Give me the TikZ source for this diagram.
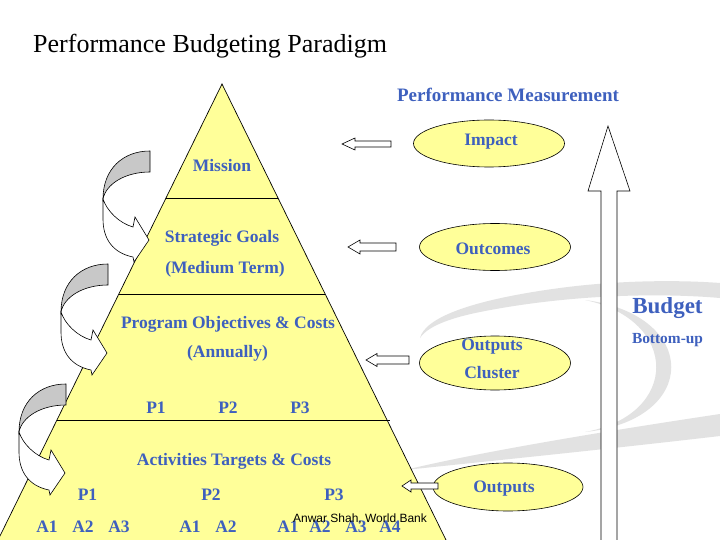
\documentclass[tikz,border=0pt]{standalone}
\usepackage{fontspec}
\setmainfont{Liberation Serif}
\newfontfamily\arialfont{Liberation Sans}
\usetikzlibrary{shapes.geometric}
\definecolor{pblue}{RGB}{62,96,190}
\definecolor{pyel}{RGB}{255,255,153}
\definecolor{cgray}{RGB}{200,200,200}
\definecolor{swoosh}{RGB}{226,226,226}
\newcommand\curvedarrowat[1]{%
  \begin{scope}[shift={#1}]
    \draw[cgray arrow] (47,-48) .. controls (20,-48) and (0,-30) .. (0,0)
       .. controls (3,-15) and (22,-27) .. (47,-27) -- cycle;
    \draw[white arrow] (0,0) .. controls (4,12) and (16,24) .. (30,28)
       -- (32,18) -- (46,41) -- (31,63) -- (30,58)
       .. controls (10,54) and (0,40) .. (0,20) -- cycle;
  \end{scope}}
\newcommand\leftblock[7]{% name, tip x, y, head base x, tail x, shaft half, head half
  \coordinate (#1) at (#2,#3);
  \draw[barrow] (#1) -- (#4,#3-#7) -- (#4,#3-#6) -- (#5,#3-#6) -- (#5,#3+#6)
     -- (#4,#3+#6) -- (#4,#3+#7) -- cycle;}
\begin{document}
\begin{tikzpicture}[x=1pt,y=-1pt,
  lbl/.style={text=pblue,font=\fontsize{17.5}{20}\selectfont\bfseries,inner sep=0pt},
  oval/.style={ellipse,draw=black,line width=0.6pt,fill=pyel,inner sep=0pt},
  barrow/.style={draw=black,fill=white,line width=0.6pt,line join=miter},
  cgray arrow/.style={draw=black,fill=cgray,line width=0.6pt},
  white arrow/.style={draw=black,fill=white,line width=0.6pt},
  edge/.style={draw=black,line width=0.7pt},
  ]
\useasboundingbox[fill=white] (0,0) rectangle (720,540);

% faint background swooshes
\fill[swoosh] (405,470) .. controls (480,452) and (600,432) .. (720,414)
   -- (720,436) .. controls (600,450) and (480,462) .. (405,470) -- cycle;
\fill[swoosh] (420,338) .. controls (425,318) and (470,300) .. (560,288)
   .. controls (620,280) and (680,280) .. (720,283)
   -- (720,298) .. controls (650,292) and (560,296) .. (480,312)
   .. controls (440,320) and (425,330) .. (420,338) -- cycle;
\fill[swoosh] (585,300) .. controls (700,315) and (700,420) .. (585,432)
   .. controls (680,415) and (680,320) .. (585,300) -- cycle;

% title
\node[anchor=west,inner sep=0pt,font=\fontsize{26}{30}\selectfont] (title) at (33,46) {Performance Budgeting Paradigm};

% pyramid
\coordinate (apex) at (222,84);
\coordinate (bl) at (-2,540);
\coordinate (br) at (446,540);
\fill[pyel] (apex) -- (br) -- (bl) -- cycle;
\draw[edge] (bl) -- (apex) -- (br);
\draw[edge] (166,198) -- (278,198);
\draw[edge] (119,294) -- (325,294);
\draw[edge] (57,420) -- (390,420);

% pyramid texts
\node[lbl] (mission) at (222,166) {Mission};
\node[lbl] (goals) at (222,238) {Strategic Goals};
\node[lbl] (medium) at (225,269) {(Medium Term)};
\node[lbl] (progobj) at (228,324) {Program Objectives \& Costs};
\node[lbl] (annually) at (227.5,353) {(Annually)};
\node[lbl] (p1a) at (156,408) {P1};
\node[lbl] (p2a) at (228,408) {P2};
\node[lbl] (p3a) at (300,408) {P3};
\node[lbl] (activ) at (234,461) {Activities Targets \& Costs};
\node[lbl] (p1b) at (87.5,495) {P1};
\node[lbl] (p2b) at (211,495) {P2};
\node[lbl] (p3b) at (334,495) {P3};
\node[lbl] (a11) at (47,527) {A1};
\node[lbl] (a12) at (83,527) {A2};
\node[lbl] (a13) at (119,527) {A3};
\node[lbl] (a21) at (190,527) {A1};
\node[lbl] (a22) at (226,527) {A2};
\node[lbl] (a31) at (288,527) {A1};
\node[lbl] (a32) at (320,527) {A2};
\node[lbl] (a33) at (356,527) {A3};
\node[lbl] (a34) at (390,527) {A4};
\node[inner sep=0pt,font=\arialfont\fontsize{12}{14}\selectfont] (author) at (360,519) {Anwar Shah, World Bank};

% curved arrows on the left
\curvedarrowat{(103,199)}
\curvedarrowat{(61,312)}
\curvedarrowat{(19,432)}

% right side
\node[lbl,font=\fontsize{19}{22}\selectfont\bfseries] (pm) at (508,95) {Performance Measurement};
\node[oval,minimum width=151pt,minimum height=47pt] (impact) at (489,143.5) {};
\node[lbl] (impactt) at (491,142) {Impact};
\node[oval,minimum width=151pt,minimum height=47pt] (outcomes) at (495,247) {};
\node[lbl] (outcomest) at (493,249) {Outcomes};
\node[oval,minimum width=151pt,minimum height=54pt] (cluster) at (495,363) {};
\node[lbl] (clustert1) at (492,347) {Outputs};
\node[lbl] (clustert2) at (492,373) {Cluster};
\node[oval,minimum width=150pt,minimum height=48pt] (outputs) at (508,487) {};
\node[lbl] (outputst) at (504,489) {Outputs};

% block arrows pointing to the pyramid
\leftblock{ia}{342}{144}{355}{391}{3}{6}
\leftblock{oa}{348}{247}{360}{396}{4}{7}
\leftblock{ca}{366}{360}{377}{409}{4}{6.5}
\leftblock{ua}{402}{486}{411}{438}{3}{6}

% big upward arrow
\coordinate (uptip) at (608,126);
\draw[barrow] (uptip) -- (630,191) -- (617,191) -- (617,545) -- (601,545)
   -- (601,191) -- (588,191) -- cycle;
\node[lbl,font=\fontsize{23}{26}\selectfont\bfseries] (budget) at (667.5,308) {Budget};
\node[lbl,font=\fontsize{15.4}{18}\selectfont\bfseries] (bottomup) at (667.5,340) {Bottom-up};
\end{tikzpicture}
\end{document}
